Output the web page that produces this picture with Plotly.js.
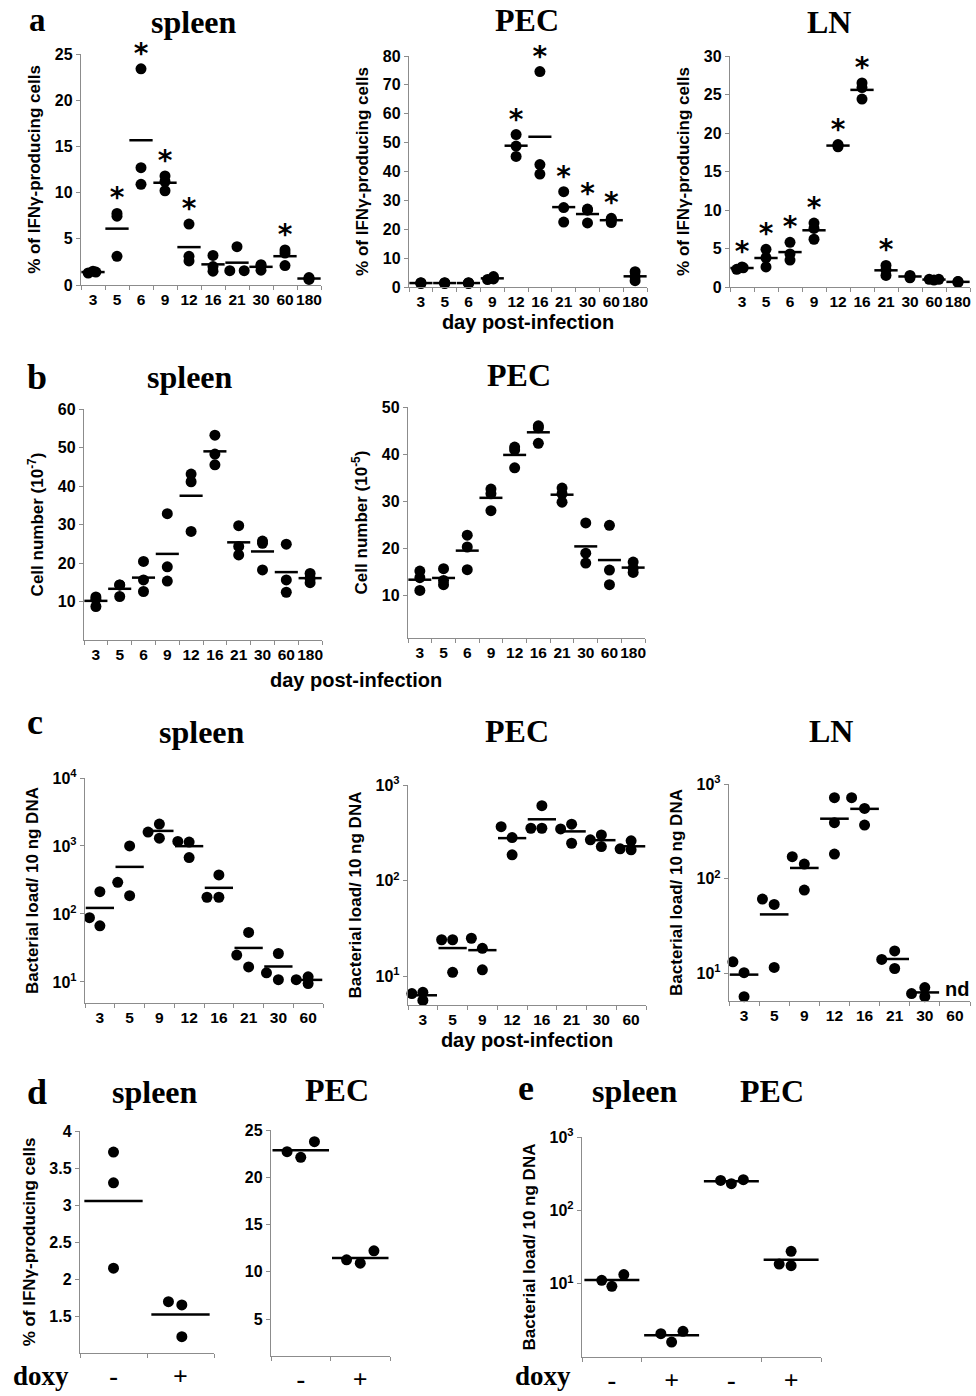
<!DOCTYPE html>
<html><head><meta charset="utf-8">
<script src="https://cdn.plot.ly/plotly-3.0.1.min.js"></script>
<style>html,body{margin:0;padding:0;background:#fff}#chart{width:976px;height:1396px}</style>
</head><body><div id="chart"></div>
<script>
// ---------- categories ----------
const DAYS_LONG = ['3','5','6','9','12','16','21','30','60','180'];
const DAYS_SHORT = ['3','5','9','12','16','21','30','60'];
const DOXY_2 = ['-','+'];
const DOXY_4 = ['-','+','-','+'];

// ---------- a: % of IFNγ-producing cells (3 mice / day) ----------
const A_SPLEEN = [[1.3,1.4,1.5],[7.75,7.45,3.1],[23.4,12.7,10.9],[11.8,11.2,10.2],[6.6,3.1,2.6],[3.2,2.0,1.5],[4.15,1.55,1.55],[2.1,2.2,1.6],[3.8,3.45,2.1],[0.6,0.7,0.8]];
const A_SPLEEN_SIG = ['','*','*','*','*','','','','*',''];
const A_PEC = [[1.2,1.4,1.5],[1.2,1.4,1.5],[1.2,1.4,1.5],[2.6,2.8,3.6],[52.8,48.8,45.2],[74.6,42.4,39.1],[33.0,27.5,22.5],[26.6,27.0,22.2],[23.8,23.3,22.3],[5.3,3.6,2.2]];
const A_PEC_SIG = ['','','','','*','*','*','*','*',''];
const A_LN = [[2.3,2.5,2.6],[4.9,3.8,2.6],[5.8,4.3,3.5],[8.3,7.6,6.2],[18.2,18.4,18.5],[26.5,25.9,24.4],[2.8,2.2,1.5],[1.2,1.4,1.5],[1.0,1.0,0.9],[0.6,0.7,0.7]];
const A_LN_SIG = ['*','*','*','*','*','*','*','','',''];

// ---------- b: cell number ----------
const B_SPLEEN = [[11.2,10.6,8.7],[14.3,14.3,11.3],[20.4,15.6,12.6],[32.8,19.0,15.3],[43.1,41.1,28.2],[53.2,48.3,45.5],[29.7,24.3,22.1],[25.7,25.1,18.2],[24.9,15.6,12.4],[17.3,16.0,14.9]];
const B_PEC = [[15.2,13.8,11.1],[15.7,13.2,12.3],[22.8,20.3,15.5],[32.6,31.6,28.0],[41.5,40.9,37.1],[46.0,45.6,42.3],[32.8,31.6,29.8],[25.4,19.0,16.9],[24.9,15.4,12.3],[17.1,15.8,14.9]];

// ---------- c: bacterial load / 10 ng DNA ----------
const C_SPLEEN = [[88,213,67],[292,1000,186],[1600,2100,1300],[1165,1140,676],[375,176,176],[53.5,24.8,16.6],[26.2,13.6,10.8],[10.8,11.9,9.45]];
const C_PEC = [[6.6,6.8,5.6],[24.1,24.1,11.0],[25,19.6,11.7],[367,282,186],[353,608,353],[347,389,246],[267,301,227],[215,261,210]];
const C_LN = [[13.3,10.2,5.7],[61,53.6,11.6],[171,143,76],[718,391,182],[718,553,369],[14.1,17.3,11.3],[6.15,7.1,5.7],[null,null,null]];

// ---------- d: % IFNγ cells with / without doxycycline ----------
const D_SPLEEN = [[3.715,3.30,2.146],[1.694,1.649,1.22]];
const D_PEC = [[22.71,22.11,23.77],[11.27,10.92,12.22]];

// ---------- e: bacterial load with / without doxycycline (spleen -,+ ; PEC -,+) ----------
const E_LOAD = [[11.1,9.2,13.3],[2.08,1.6,2.24],[256,231,262],[27.6,18.5,17.6]];

// ---------- horizontal spread of the dots inside a category (layout) ----------
const Z10 = [[0,0,0],[0,0,0],[0,0,0],[0,0,0],[0,0,0],[0,0,0],[0,0,0],[0,0,0],[0,0,0],[0,0,0]];
const JIT_A_SPLEEN = [[-0.2,0.12,0],[0,0,0],[0,0,0],[0,0,0],[0,0,0],[0,0,0],[0,-0.3,0.3],[0,0,0],[0,0,0],[0,0,0]];
const JIT_A_PEC = [[0,0,0],[0,0,0],[0,0,0],[-0.2,0.05,0.05],[0,0,0],[0,0,0],[0,0,0],[0,0,0],[0,0,0],[0,0,0]];
const JIT_A_LN = [[-0.22,0.05,0],[0,0,0],[0,0,0],[0,0,0],[0,0,0],[0,0,0],[0,0,0],[0,0,0],[-0.2,0.2,0],[0,0,0]];
const JIT_C_SPLEEN = [[-0.35,0,0],[-0.4,0,0],[-0.38,0,0],[-0.38,0,0],[0,-0.4,0],[0,-0.4,0],[0,-0.4,0],[-0.4,0,0]];
const JIT_C_PEC = [[-0.37,0,0],[-0.37,0,0],[-0.37,0,0],[-0.37,0,0],[-0.37,0,0],[-0.37,0,0],[-0.37,0,0],[-0.37,0,0]];
const JIT_C_LN = [[-0.37,0,0],[-0.39,0,0],[-0.4,0,0],[0,0,0],[-0.43,0,0],[-0.43,0,0],[-0.44,0,0],[0,0,0]];
const JIT_D_SPLEEN = [[0,0,0],[-0.18,0.02,0.02]];
const JIT_D_PEC = [[-0.23,0,0.23],[-0.23,0,0.23]];
const JIT_E = [[-0.17,0,0.2],[-0.18,0,0.19],[-0.18,0,0.2],[0,-0.2,0]];

// ---------- page geometry and styles ----------
const W = 976, H = 1396;
const SANS = '"Liberation Sans", Arial, Helvetica, sans-serif';
const SERIF = '"Liberation Serif", "Times New Roman", serif';
const GRAY = '#8c8c8c';
const STAR_PX = 13;
const IFN_TITLE = '% of IFNγ-producing cells';
const LOAD_TITLE = 'Bacterial load/ 10 ng DNA';
const LOG_TXT = ['10<sup>1</sup>','10<sup>2</sup>','10<sup>3</sup>','10<sup>4</sup>'];

const PANELS = [
  {cats:DAYS_LONG, vals:A_SPLEEN, jit:JIT_A_SPLEEN, sig:A_SPLEEN_SIG, box:[81,321,54,285], range:[0,25], ticks:[0,5,10,15,20,25], ytitle:IFN_TITLE, lf:0.97},
  {cats:DAYS_LONG, vals:A_PEC, jit:JIT_A_PEC, sig:A_PEC_SIG, box:[409,647,56,287], range:[0,80], ticks:[0,10,20,30,40,50,60,70,80], ytitle:IFN_TITLE, xtitle:'day post-infection', lf:0.97},
  {cats:DAYS_LONG, vals:A_LN, jit:JIT_A_LN, sig:A_LN_SIG, box:[730,970,56,287], range:[0,30], ticks:[0,5,10,15,20,25,30], ytitle:IFN_TITLE, lf:0.97},
  {cats:DAYS_LONG, vals:B_SPLEEN, jit:Z10, box:[84,322,409,640], range:[0,60], ticks:[10,20,30,40,50,60], ytitle:'Cell number (10<sup>-7</sup>)', lf:0.97},
  {cats:DAYS_LONG, vals:B_PEC, jit:Z10, box:[408,645,407,638], range:[1,50], ticks:[10,20,30,40,50], ytitle:'Cell number (10<sup>-5</sup>)', lf:0.97},
  {cats:DAYS_SHORT, vals:C_SPLEEN, jit:JIT_C_SPLEEN, box:[85,323,778,1003], log:true, range:[0.69,4], ticks:[10,100,1000,10000], ticktext:LOG_TXT, ytitle:LOAD_TITLE, lf:0.95},
  {cats:DAYS_SHORT, vals:C_PEC, jit:JIT_C_PEC, box:[408,646,785,1005], log:true, range:[0.70,3], ticks:[10,100,1000], ticktext:LOG_TXT, ytitle:LOAD_TITLE, xtitle:'day post-infection', lf:0.95},
  {cats:DAYS_SHORT, vals:C_LN, jit:JIT_C_LN, box:[729,970,784,1001], log:true, range:[0.71,3], ticks:[10,100,1000], ticktext:LOG_TXT, ytitle:LOAD_TITLE, lf:0.95},
  {cats:DOXY_2, vals:D_SPLEEN, jit:JIT_D_SPLEEN, box:[80,214,1131,1353], range:[1,4], ticks:[1.5,2,2.5,3,3.5,4], ytitle:IFN_TITLE, lf:0.87, doxy:true},
  {cats:DOXY_2, vals:D_PEC, jit:JIT_D_PEC, box:[271,390,1130,1356], range:[1.1,25], ticks:[5,10,15,20,25], lf:0.95, doxy:true},
  {cats:DOXY_4, vals:E_LOAD, jit:JIT_E, box:[582,821,1137,1357], log:true, range:[0,3], ticks:[10,100,1000], ticktext:LOG_TXT, ytitle:LOAD_TITLE, lf:0.92, doxy:true, bounds:[-0.5,0.5,2.5,3.5]}
];

function mean(a){const v=a.filter(x=>x!=null);return v.length?v.reduce((s,x)=>s+x,0)/v.length:null;}

const traces = [];
const layout = {
  width:W, height:H, margin:{l:0,r:0,t:0,b:0}, paper_bgcolor:'#fff', plot_bgcolor:'rgba(0,0,0,0)',
  showlegend:false, font:{family:SANS, color:'#000'}, annotations:[]
};

PANELS.forEach((p,i)=>{
  const n = i+1, sfx = n===1 ? '' : String(n);
  const xa = 'x'+sfx, ya = 'y'+sfx;
  const [x0,x1,yt,yb] = p.box;
  const nc = p.cats.length, catPx = (x1-x0)/nc;
  const px=[],py=[],mx=[],my=[],sx=[],sy=[],st=[];
  p.vals.forEach((grp,j)=>{
    grp.forEach((v,k)=>{ if(v!=null){ px.push(j+p.jit[j][k]); py.push(v); } });
    const m = mean(grp); if(m!=null){ mx.push(j); my.push(m); }
    if(p.sig && p.sig[j]){
      const top = Math.max(...grp.filter(v=>v!=null));
      sx.push(j); sy.push(top + STAR_PX*(p.range[1]-p.range[0])/(yb-yt)); st.push(p.sig[j]);
    }
  });
  traces.push({type:'scatter', mode:'markers', x:px, y:py, xaxis:xa, yaxis:ya, cliponaxis:false, hoverinfo:'skip',
    marker:{color:'#000', size:11}});
  traces.push({type:'scatter', mode:'markers', x:mx, y:my, xaxis:xa, yaxis:ya, cliponaxis:false, hoverinfo:'skip',
    marker:{symbol:'line-ew', size:catPx*p.lf/1.4, color:'#000', line:{color:'#000', width:2.5}}});
  if(sx.length) traces.push({type:'scatter', mode:'text', x:sx, y:sy, text:st, textposition:'middle center',
    xaxis:xa, yaxis:ya, cliponaxis:false, hoverinfo:'skip', textfont:{family:'"DejaVu Sans", sans-serif', size:28, weight:'bold', color:'#000'}});

  const bounds = p.bounds || Array.from({length:nc+1},(_,k)=>k-0.5);
  const xax = {
    domain:[x0/W, x1/W], anchor:ya, range:[-0.5, nc-0.5], fixedrange:true,
    tickmode:'array', tickvals:p.cats.map((_,k)=>k), ticktext:p.cats, ticks:'', tickangle:0,
    showline:true, linecolor:GRAY, linewidth:1.2, showgrid:false, zeroline:false,
    tickfont: p.doxy ? {family:SERIF, size:26, weight:'bold', color:'#000'} : {family:SANS, size:15.5, weight:'bold', color:'#000'},
    minor:{tickmode:'array', tickvals:bounds, ticks:'outside', ticklen:4, tickwidth:1, tickcolor:GRAY, showgrid:false}
  };
  if(p.xtitle) xax.title = {text:p.xtitle, font:{family:SANS, size:20, weight:'bold', color:'#000'}, standoff:6};
  layout['xaxis'+sfx] = xax;
  const yax = {
    domain:[1-yb/H, 1-yt/H], anchor:xa, type:p.log?'log':'linear', range:p.range, fixedrange:true,
    tickmode:'array', tickvals:p.ticks, ticktext:p.ticktext || p.ticks.map(String),
    ticks:'outside', ticklen:4, tickwidth:1, tickcolor:GRAY,
    showline:true, linecolor:GRAY, linewidth:1.2, showgrid:false, zeroline:false,
    tickfont:{family:SANS, size:16, weight:'bold', color:'#000'}
  };
  if(p.ytitle) yax.title = {text:p.ytitle, font:{family:SANS, size:17, weight:'bold', color:'#000'}, standoff:9};
  layout['yaxis'+sfx] = yax;
});

function ann(text, x, y, font, yanchor){
  layout.annotations.push({text, x:x/W, y:1-y/H, xref:'paper', yref:'paper', xanchor:'center', yanchor:yanchor||'middle', showarrow:false, font});
}
const LETTER = {family:SERIF, size:36, weight:'bold', color:'#000'};
const TITLE = {family:SERIF, size:32, weight:'bold', color:'#000'};
ann('a',37,0,{family:SERIF, size:33, weight:'bold', color:'#000'},'top');
ann('b',37,377,LETTER); ann('c',35,722,LETTER); ann('d',37,1092,LETTER); ann('e',526,1088,LETTER);
ann('spleen',194,22,TITLE); ann('PEC',527,20,TITLE); ann('LN',829,22,TITLE);
ann('spleen',190,377,TITLE); ann('PEC',519,375,TITLE);
ann('spleen',202,732,TITLE); ann('PEC',517,731,TITLE); ann('LN',831,731,TITLE);
ann('spleen',155,1092,TITLE); ann('PEC',337,1090,TITLE);
ann('spleen',635,1091,TITLE); ann('PEC',772,1091,TITLE);
ann('day post-infection',356,680,{family:SANS, size:20, weight:'bold', color:'#000'});
ann('doxy',41,1376,{family:SERIF, size:27, weight:'bold', color:'#000'});
ann('doxy',543,1376,{family:SERIF, size:27, weight:'bold', color:'#000'});
ann('nd',957,989,{family:SANS, size:20, weight:'bold', color:'#000'});

Plotly.newPlot('chart', traces, layout, {displayModeBar:false, staticPlot:true});
</script>
</body></html>
